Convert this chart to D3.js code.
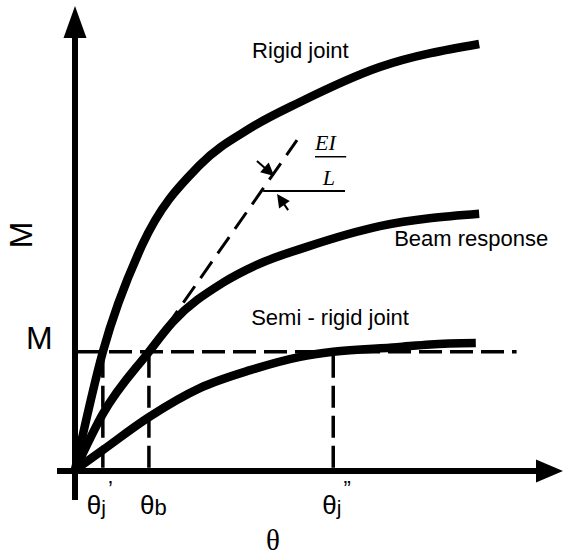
<!DOCTYPE html>
<html>
<head>
<meta charset="utf-8">
<script src="https://cdn.jsdelivr.net/npm/d3@7"></script>
<style>
  html, body { margin: 0; padding: 0; background: #fff; }
  text { font-family: Arial, "Liberation Sans", sans-serif; fill: #000; }
</style>
</head>
<body>
<svg id="chart" width="565" height="556"></svg>
<script>
// Moment–rotation curves (θ and M in arbitrary units, 0–100)
const rigidTheta = [0, 5.8, 14, 26, 36.5, 46.9, 63.5, 84.2];
const rigidM     = [0, 25.7, 48.9, 66.3, 74.3, 80, 87.6, 92.6];

const beamTheta = [0, 5.8, 15.4, 20.4, 30.8, 37.9, 48.3, 63.5, 84.2];
const beamM     = [0, 12.2, 25.7, 32.2, 40.7, 44.6, 48.5, 53.0, 55.7];

const semiTheta = [0, 5.8, 15.4, 26, 36.5, 46.9, 53.8, 67.1, 74, 83.5];
const semiM     = [0, 4.35, 11.5, 17.8, 21.7, 24.6, 25.7, 26.7, 27.3, 27.6];

// Reference moment and the rotations where each curve reaches it
const momentLevel = 25.7;
const markTheta = [5.8, 15.4, 53.8];          // θj', θb, θj''
const levelLineEnd = 92;                       // θ where the M dashed line stops

// Initial beam stiffness EI/L (dashed) and its reference horizontal
const tangentTheta = [15.4, 46.25];
const tangentM     = [25.7, 71.7];
const stiffRefTheta = [39.2, 56.25];
const stiffRefM = 60.65;
// Angle arrows: [tailθ, tailM, tipθ, tipM]
const angleArrows = [
  [37.9, 67.2, 41.5, 63.9],
  [44.4, 56.5, 42.1, 60.0]
];

// Curve captions: [text, θ, M]
const curveLabels = [
  ["Rigid joint", 36.9, 89.6],
  ["Beam response", 66.5, 48.7],
  ["Semi - rigid joint", 36.7, 31.5]
];

const svg = d3.select("#chart");
const x = d3.scaleLinear().domain([0, 100]).range([75, 555]);
const y = d3.scaleLinear().domain([0, 100]).range([470, 10]);

const x0 = x(0), y0 = y(0);

// ---- Axes (plain arrows, no ticks) ----
svg.append("line")
  .attr("x1", x0).attr("x2", x0)
  .attr("y1", y0 + 30).attr("y2", 36)
  .attr("stroke", "#000").attr("stroke-width", 6);
svg.append("path")
  .attr("d", `M${x0},6 L${x0 - 11.5},38 L${x0 + 11.5},38 Z`)
  .attr("fill", "#000");

svg.append("line")
  .attr("x1", x0 - 18).attr("x2", 538)
  .attr("y1", y0 + 1).attr("y2", y0 + 1)
  .attr("stroke", "#000").attr("stroke-width", 6);
svg.append("path")
  .attr("d", `M563,${y0 + 1} L536,${y0 - 10.5} L536,${y0 + 12.5} Z`)
  .attr("fill", "#000");

// ---- Dashed construction lines ----
svg.append("line")
  .attr("x1", x0 + 3).attr("x2", x(levelLineEnd))
  .attr("y1", y(momentLevel)).attr("y2", y(momentLevel))
  .attr("stroke", "#000").attr("stroke-width", 3.5)
  .attr("stroke-dasharray", "23 8");

svg.selectAll("line.vmark")
  .data(markTheta)
  .join("line")
  .attr("class", "vmark")
  .attr("x1", d => x(d)).attr("x2", d => x(d))
  .attr("y1", y(momentLevel) + 4).attr("y2", y0)
  .attr("stroke", "#000").attr("stroke-width", 3.5)
  .attr("stroke-dasharray", "22 8");

svg.append("line")
  .attr("x1", x(tangentTheta[0])).attr("y1", y(tangentM[0]))
  .attr("x2", x(tangentTheta[1])).attr("y2", y(tangentM[1]))
  .attr("stroke", "#000").attr("stroke-width", 3)
  .attr("stroke-dasharray", "20 10");

// ---- Curves ----
const line = d3.line()
  .x(d => x(d[0])).y(d => y(d[1]))
  .curve(d3.curveMonotoneX);

const curves = [
  d3.zip(rigidTheta, rigidM),
  d3.zip(beamTheta, beamM),
  d3.zip(semiTheta, semiM)
];
svg.selectAll("path.curve")
  .data(curves)
  .join("path")
  .attr("class", "curve")
  .attr("d", line)
  .attr("fill", "none")
  .attr("stroke", "#000")
  .attr("stroke-width", 8.5)
  .attr("stroke-linecap", "butt");

// ---- EI/L stiffness marker ----
svg.append("line")
  .attr("x1", x(stiffRefTheta[0])).attr("x2", x(stiffRefTheta[1]))
  .attr("y1", y(stiffRefM)).attr("y2", y(stiffRefM))
  .attr("stroke", "#000").attr("stroke-width", 2);

function arrow(tail, tip, len, half) {
  const dx = tip[0] - tail[0], dy = tip[1] - tail[1];
  const d = Math.hypot(dx, dy), ux = dx / d, uy = dy / d;
  const bx = tip[0] - ux * len, by = tip[1] - uy * len;
  svg.append("line")
    .attr("x1", tail[0]).attr("y1", tail[1])
    .attr("x2", bx + ux).attr("y2", by + uy)
    .attr("stroke", "#000").attr("stroke-width", 2);
  svg.append("path")
    .attr("d", `M${tip[0]},${tip[1]} L${bx - uy * half},${by + ux * half} L${bx + uy * half},${by - ux * half} Z`)
    .attr("fill", "#000");
}
angleArrows.forEach(a => arrow([x(a[0]), y(a[1])], [x(a[2]), y(a[3])], 13, 6.5));

const serif = "'Liberation Serif', 'Times New Roman', serif";
svg.append("text").attr("x", x(50)).attr("y", y(69.6))
  .attr("font-size", 22).attr("font-style", "italic")
  .style("font-family", serif).text("EI");
svg.append("text").attr("x", x(51.6)).attr("y", y(62))
  .attr("font-size", 22).attr("font-style", "italic")
  .style("font-family", serif).text("L");
svg.append("line")
  .attr("x1", x(50)).attr("x2", x(56.5))
  .attr("y1", y(68.1)).attr("y2", y(68.1))
  .attr("stroke", "#000").attr("stroke-width", 1.5);

// ---- Curve captions ----
svg.selectAll("text.cap")
  .data(curveLabels)
  .join("text")
  .attr("class", "cap")
  .attr("x", d => x(d[1])).attr("y", d => y(d[2]))
  .attr("font-size", 22)
  .text(d => d[0]);

// ---- Axis labels ----
svg.append("text")
  .attr("transform", `translate(32,235) rotate(-90)`)
  .attr("text-anchor", "middle")
  .attr("font-size", 32)
  .text("M");
svg.append("text")
  .attr("x", 26).attr("y", y(momentLevel) - 3)
  .attr("font-size", 32)
  .text("M");
svg.append("text")
  .attr("x", 273).attr("y", 550)
  .attr("text-anchor", "middle")
  .attr("font-size", 29)
  .style("font-family", serif)
  .text("θ");

// Rotation labels under the dashed marks
const rotLabels = [
  { t: markTheta[0], sub: "j", sup: "’", dx: -16 },
  { t: markTheta[1], sub: "b", sup: "", dx: -9 },
  { t: markTheta[2], sub: "j", sup: "”", dx: -11 }
];
rotLabels.forEach(r => {
  const g = svg.append("text")
    .attr("x", x(r.t) + r.dx).attr("y", 514)
    .attr("font-size", 26);
  g.append("tspan").text("θ");
  g.append("tspan").attr("font-size", r.sub === "b" ? 22 : 21).attr("dy", 1).text(r.sub);
  if (r.sup) {
    g.append("tspan").attr("font-size", 22).attr("dx", 2).attr("dy", -19).text(r.sup);
  }
});
</script>
</body>
</html>
